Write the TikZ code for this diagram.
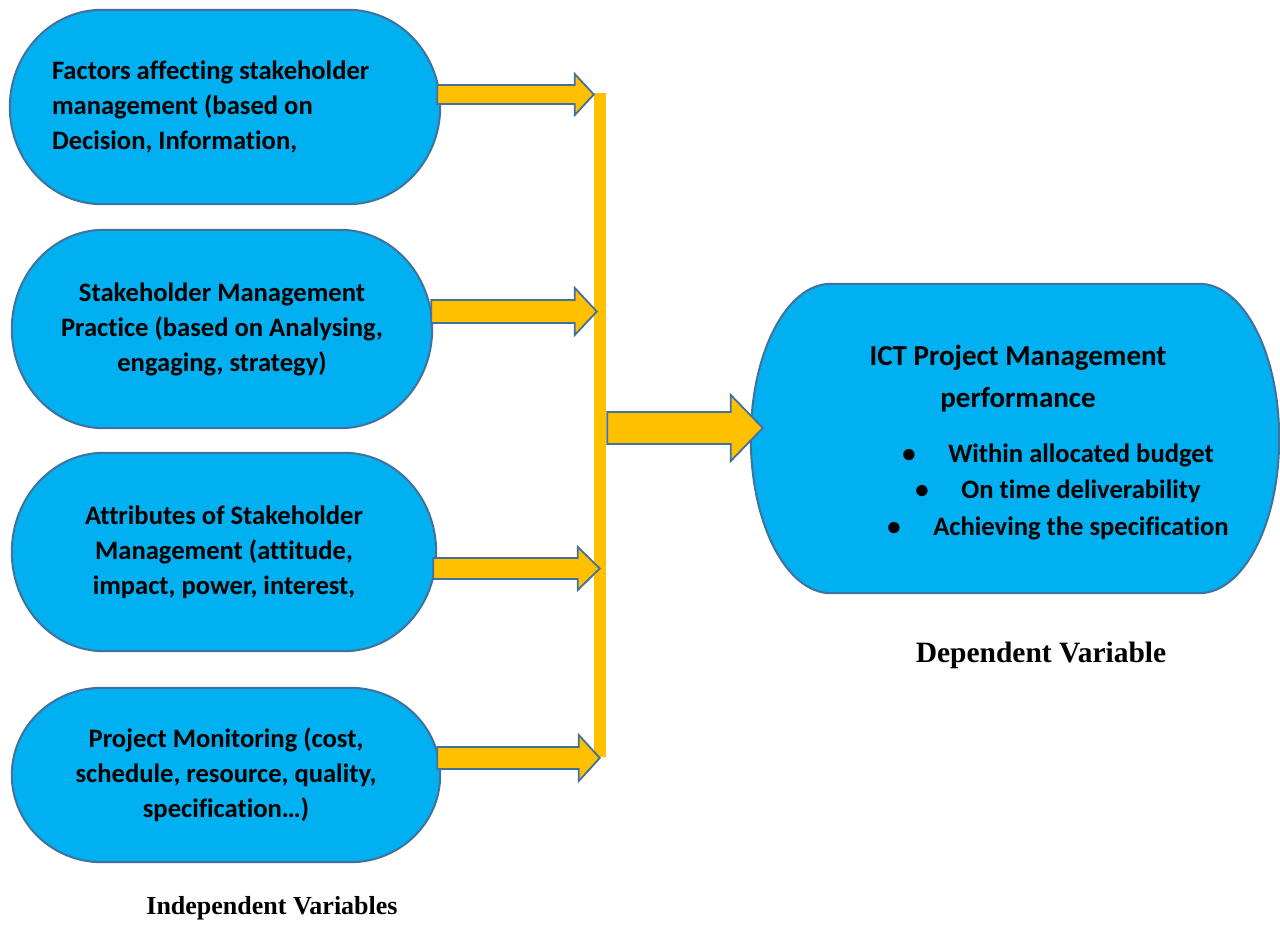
\documentclass[tikz,border=0pt]{standalone}
\usepackage{fontspec}
\setmainfont{Liberation Serif}
\newfontfamily\calibri[Ligatures=NoCommon]{Carlito}
\usetikzlibrary{calc,positioning,backgrounds}
\definecolor{boxfill}{HTML}{00B0F0}
\definecolor{boxline}{HTML}{41719C}
\definecolor{flow}{HTML}{FFC000}

\tikzset{
  varbox/.style={inner sep=0pt, align=center, font=\calibri\bfseries\fontsize{26.6}{35}\selectfont},
  pill/.style={fill=boxfill, draw=boxline, line width=2pt},
  flowarrow/.style={fill=flow, draw=boxline, line width=1.8pt, line join=miter},
  caption/.style={font=\bfseries\fontsize{26}{30}\selectfont}
}

% outline with elliptic ends round a node: #1 node, #2 x radius
\newcommand{\pillbox}[2]{%
  \path[pill] let \p1=(#1.north west), \p2=(#1.south east) in
    (\x1+#2,\y1) -- (\x2-#2,\y1)
    arc[start angle=90, end angle=-90, x radius=#2pt, y radius={(\y1-\y2)/2}]
    -- (\x1+#2,\y2)
    arc[start angle=270, end angle=90, x radius=#2pt, y radius={(\y1-\y2)/2}] -- cycle;}
% block arrow: #1 start, #2 tip, #3 shaft half, #4 head half, #5 head length
\newcommand{\blockarrow}[5]{%
  \draw[flowarrow] let \p1=(#1), \p2=(#2) in
    (\x1,\y1+#3) -- (\x2-#5,\y1+#3) -- (\x2-#5,\y1+#4) -- (\x2,\y1)
    -- (\x2-#5,\y1-#4) -- (\x2-#5,\y1-#3) -- (\x1,\y1-#3) -- cycle;}

\begin{document}
\begin{tikzpicture}[x=1pt,y=-1pt]
  \useasboundingbox (0,0) rectangle (1280,950);

  % Independent variables
  \node[varbox, align=flush left, text width=346pt, minimum width=430pt, minimum height=194pt] (f1) at (225,107)
    {Factors affecting stakeholder\\management (based on\\Decision, Information,};
  \node[varbox, minimum width=420pt, minimum height=198pt] (f2) at (222,329)
    {Stakeholder Management\\Practice (based on Analysing,\\engaging, strategy)};
  \node[varbox, minimum width=424pt, minimum height=198pt] (f3) at (224,552)
    {Attributes of Stakeholder\\Management (attitude,\\impact, power, interest,};
  \node[varbox, minimum width=428pt, minimum height=174pt] (f4) at (226,775)
    {Project Monitoring (cost,\\schedule, resource, quality,\\specification\dots)};

  % Dependent variable
  \node[inner sep=0pt, minimum width=528pt, minimum height=309pt] (perf) at (1015,438.5) {};
  \node[varbox, font=\calibri\bfseries\fontsize{29}{42}\selectfont] (perftitle) at (1018,379)
    {ICT Project Management\\performance};
  \node[varbox, font=\calibri\bfseries\fontsize{26.6}{36.5}\selectfont] (perflist) at (1058,491.5)
    {\makebox[46pt][l]{\textbullet}Within allocated budget\\
     \makebox[46pt][l]{\textbullet}On time deliverability\\
     \makebox[46pt][l]{\textbullet}Achieving the specification};

  \begin{scope}[on background layer]
    \pillbox{f1}{92}
    \pillbox{f2}{92}
    \pillbox{f3}{92}
    \pillbox{f4}{90}
    \pillbox{perf}{80}
  \end{scope}

  % Collecting bar
  \node[fill=flow, inner sep=0pt, minimum width=12pt, minimum height=664pt] (bar) at (600,425) {};

  \blockarrow{$(f1.east)+(-3,-12.5)$}{bar.west}{9.5}{20.5}{19}
  \blockarrow{$(f2.east)+(-1,-17.5)$}{$(bar.west)+(3,0)$}{11.5}{23.5}{22}
  \blockarrow{$(f3.east)+(-3,16.5)$}{$(bar.west)+(6,0)$}{10.5}{21.5}{22}
  \blockarrow{$(f4.east)+(-3,-17)$}{$(bar.west)+(6,0)$}{11}{23}{21}
  \blockarrow{$(bar.east)+(1,3)$}{$(perf.west)+(12,0)$}{16}{33}{32}

  % Captions
  \node[caption] (indep) at (272,908) {Independent Variables};
  \node[caption, font=\bfseries\fontsize{29.5}{33}\selectfont] (dep) at (1041,655) {Dependent Variable};
\end{tikzpicture}
\end{document}
